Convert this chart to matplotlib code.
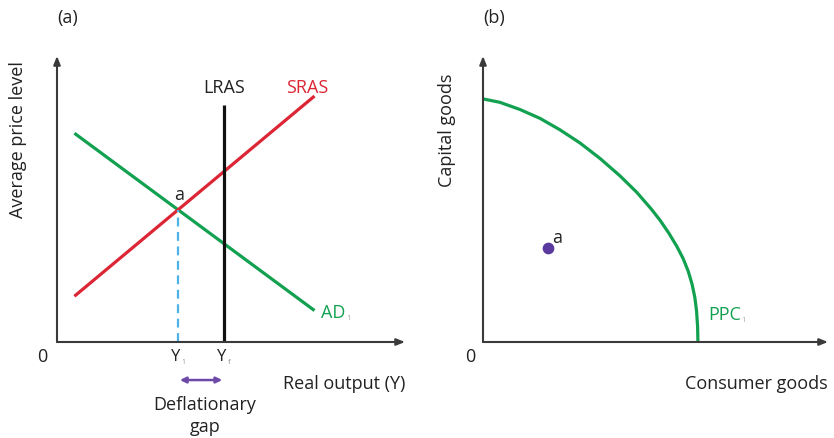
import matplotlib
matplotlib.use("Agg")
import matplotlib.pyplot as plt
import numpy as np

plt.rcParams["font.family"] = ["Open Sans", "DejaVu Sans"]

GREEN = "#12a150"
RED = "#dc2535"
BLUE = "#4db3e6"
PURPLE = "#6d4aa8"
AXIS = "#3a3a3a"
TEXT = "#222222"

# Panel (a): AD/AS diagram
SRAS_X = [0.5, 7.4]
SRAS_Y = [1.6, 8.6]
AD_X = [0.5, 7.4]
AD_Y = [7.3, 1.1]
LRAS_X = 4.8
LRAS_TOP = 8.3

# Panel (b): production possibility curve
PPC_X = [0.0, 0.49, 1.07, 1.65, 2.23, 2.81, 3.39, 3.97, 4.46, 4.87, 5.13,
         5.39, 5.62, 5.80, 5.95, 6.06, 6.14, 6.19, 6.22, 6.23]
PPC_Y = [8.50, 8.38, 8.13, 7.82, 7.42, 6.96, 6.42, 5.81, 5.23, 4.66, 4.26,
         3.80, 3.34, 2.92, 2.47, 2.02, 1.56, 1.08, 0.55, 0.0]
POINT_A = (1.88, 3.29)

FS = 13


def draw_axes(ax):
    ax.set_xlim(0, 10)
    ax.set_ylim(0, 10)
    ax.axis("off")
    arrow = dict(arrowstyle="-|>,head_length=0.5,head_width=0.2",
                 color=AXIS, lw=1.5, shrinkA=0, shrinkB=0)
    ax.annotate("", xy=(10, 0), xytext=(0, 0), arrowprops=arrow,
                annotation_clip=False)
    ax.annotate("", xy=(0, 10), xytext=(0, 0), arrowprops=arrow,
                annotation_clip=False)


fig = plt.figure(figsize=(8.34, 4.39), dpi=100)
ax_a = fig.add_axes([57 / 834, 96 / 439, 348 / 834, 286 / 439])
ax_b = fig.add_axes([483 / 834, 96 / 439, 345 / 834, 286 / 439])

# ---------------------------------------------------------------------------
# (a)
# ---------------------------------------------------------------------------
ax = ax_a
draw_axes(ax)
ax.plot(AD_X, AD_Y, color=GREEN, lw=2.3, solid_capstyle="butt")
ax.plot(SRAS_X, SRAS_Y, color=RED, lw=2.3, solid_capstyle="butt")
ax.plot([LRAS_X, LRAS_X], [0, LRAS_TOP], color="#111111", lw=2.3,
        solid_capstyle="butt")

# intersection of AD and SRAS
s1 = (SRAS_Y[1] - SRAS_Y[0]) / (SRAS_X[1] - SRAS_X[0])
s2 = (AD_Y[1] - AD_Y[0]) / (AD_X[1] - AD_X[0])
xa = (AD_Y[0] - SRAS_Y[0] + s1 * SRAS_X[0] - s2 * AD_X[0]) / (s1 - s2)
ya = SRAS_Y[0] + s1 * (xa - SRAS_X[0])
ax.plot([xa, xa], [0, ya], color=BLUE, lw=1.6, ls=(0, (4, 2.5)))

ax.text(xa + 0.03, ya + 0.25, "a", fontsize=FS, color=TEXT, ha="center",
        va="bottom")
ax.text(LRAS_X, 8.9, "LRAS", fontsize=FS, color=TEXT, ha="center",
        va="center")
ax.text(7.2, 8.9, "SRAS", fontsize=FS, color=RED, ha="center", va="center")
ax.text(7.6, 1.05, "AD", fontsize=FS, color=GREEN, ha="left", va="center")
ax.text(8.3, 0.85, "1", fontsize=6, color="#b0b0b0", ha="left", va="center")

ax.text(-0.43, -0.5, "0", fontsize=FS, color=TEXT, ha="center", va="center",
        clip_on=False)
ax.text(xa - 0.08, -0.5, "Y", fontsize=12, color=TEXT, ha="center",
        va="center")
ax.text(xa + 0.14, -0.68, "1", fontsize=5, color="#999999", ha="center",
        va="center")
ax.text(LRAS_X - 0.06, -0.5, "Y", fontsize=12, color=TEXT, ha="center",
        va="center")
ax.text(LRAS_X + 0.15, -0.68, "f", fontsize=6, color="#999999",
        ha="center", va="center")

ax.annotate("", xy=(xa + 0.05, -1.33), xytext=(LRAS_X - 0.05, -1.33),
            arrowprops=dict(arrowstyle="<|-|>,head_length=0.35,head_width=0.17",
                            color=PURPLE, lw=1.8, shrinkA=0, shrinkB=0),
            annotation_clip=False)
ax.text(4.25, -2.55, "Deflationary\ngap", fontsize=FS, color=TEXT,
        ha="center", va="center", linespacing=1.25)
ax.text(10, -1.45, "Real output (Y)", fontsize=FS, color=TEXT, ha="right",
        va="center")
ax.text(-1.12, 7.1, "Average price level", fontsize=FS, color=TEXT,
        rotation=90, ha="center", va="center")
ax.text(0.3, 11.36, "(a)", fontsize=FS, color=TEXT, ha="center",
        va="center")

# ---------------------------------------------------------------------------
# (b)
# ---------------------------------------------------------------------------
ax = ax_b
draw_axes(ax)
ax.plot(PPC_X, PPC_Y, color=GREEN, lw=2.3, solid_joinstyle="round")
ax.scatter([POINT_A[0]], [POINT_A[1]], s=55, color="#5a3a9e", zorder=3)
ax.text(POINT_A[0] + 0.28, POINT_A[1] + 0.38, "a", fontsize=FS, color=TEXT,
        ha="center", va="center")
ax.text(6.52, 0.98, "PPC", fontsize=FS, color=GREEN, ha="left",
        va="center")
ax.text(7.5, 0.8, "1", fontsize=6, color="#b0b0b0", ha="left", va="center")

ax.text(-0.38, -0.5, "0", fontsize=FS, color=TEXT, ha="center",
        va="center")
ax.text(10, -1.45, "Consumer goods", fontsize=FS, color=TEXT, ha="right",
        va="center")
ax.text(-1.04, 7.45, "Capital goods", fontsize=FS, color=TEXT, rotation=90,
        ha="center", va="center")
ax.text(0.32, 11.36, "(b)", fontsize=FS, color=TEXT, ha="center",
        va="center")

fig.savefig("out.png", dpi=100)
